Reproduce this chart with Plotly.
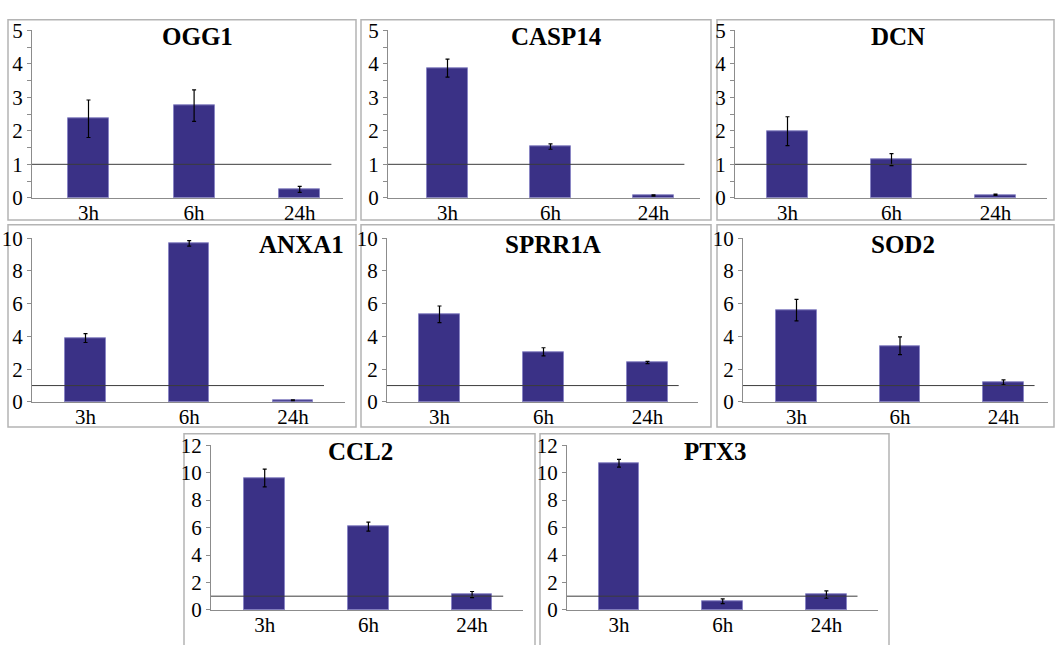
import plotly.graph_objects as go

# Time points and fold-change values (mean and error) for each gene
time_points = ["3h", "6h", "24h"]
genes = ["OGG1", "CASP14", "DCN", "ANXA1", "SPRR1A", "SOD2", "CCL2", "PTX3"]

ogg1 = [2.36, 2.75, 0.25]
ogg1_err = [0.56, 0.47, 0.09]
casp14 = [3.87, 1.53, 0.07]
casp14_err = [0.27, 0.08, 0.02]
dcn = [1.99, 1.14, 0.09]
dcn_err = [0.43, 0.18, 0.02]
anxa1 = [3.90, 9.69, 0.10]
anxa1_err = [0.27, 0.17, 0.02]
sprr1a = [5.35, 3.06, 2.41]
sprr1a_err = [0.51, 0.25, 0.07]
sod2 = [5.61, 3.43, 1.20]
sod2_err = [0.66, 0.54, 0.15]
ccl2 = [9.61, 6.07, 1.12]
ccl2_err = [0.65, 0.33, 0.22]
ptx3 = [10.69, 0.63, 1.12]
ptx3_err = [0.28, 0.17, 0.27]

values = [ogg1, casp14, dcn, anxa1, sprr1a, sod2, ccl2, ptx3]
errors = [ogg1_err, casp14_err, dcn_err, anxa1_err, sprr1a_err, sod2_err, ccl2_err, ptx3_err]
y_max = [5, 5, 5, 10, 10, 10, 12, 12]
y_dtick = [1, 1, 1, 2, 2, 2, 2, 2]
baseline = 1  # reference level (fold change = 1)

W, H = 1055, 645

# Panel geometry in pixels: axis x extent, first bar centre, bar spacing, y top/zero
panels = [
    (32, 343, 88.5, 105.6, 19, 193),
    (388, 700, 447.5, 103.0, 19, 193),
    (735, 1047, 787.5, 104.0, 19, 193),
    (32, 345, 85.5, 103.7, 235, 405),
    (387, 698, 439.5, 104.0, 235, 405),
    (743, 1048, 796.5, 103.5, 235, 405),
    (211, 523, 264.7, 103.7, 450, 621),
    (567, 878, 619.0, 103.7, 450, 621),
]
boxes = [
    (8, 356, 8, 216), (361, 711, 8, 216), (717, 1054, 8, 216),
    (8, 356, 221, 431), (361, 711, 221, 431), (717, 1054, 221, 431),
    (184, 535, 438, 700), (540, 889, 438, 700),
]
title_pos = [(197, 25), (556, 25), (898, 25), (301, 241), (553, 241),
             (903, 241), (360, 457), (715, 457)]

BAR = "#3a3186"
SERIF = "Liberation Serif"


def px(x):
    return x / W


def py(y):
    return 1 - y / H


fig = go.Figure()
shapes = []
annotations = []

for i, gene in enumerate(genes):
    n = "" if i == 0 else str(i + 1)
    x0, x1, c0, sp, ytop, yzero = panels[i]
    xr = [(x0 - c0) / sp, (x1 - c0) / sp]

    fig.add_trace(go.Bar(
        x=[0, 1, 2], y=values[i], width=0.39,
        marker=dict(color=BAR, line=dict(color="#8a86c4", width=1)),
        error_y=dict(type="data", array=errors[i], color="black",
                     thickness=1.2, width=2),
        xaxis="x" + n, yaxis="y" + n, showlegend=False,
    ))

    fig.layout["xaxis" + n] = dict(
        domain=[px(x0), px(x1)], range=xr, anchor="y" + n,
        tickvals=[0, 1, 2], ticktext=time_points, showgrid=False,
        zeroline=False, showline=True, linecolor="#8c8c8c", linewidth=1,
        ticks="", ticklabelstandoff=-4,
        tickfont=dict(family=SERIF, size=21, color="black"),
        fixedrange=True,
    )
    ycfg = dict(
        domain=[py(yzero), py(ytop)], range=[0, y_max[i]], anchor="x" + n,
        dtick=y_dtick[i], tick0=0, showgrid=False, zeroline=False,
        showline=True, linecolor="#8c8c8c", linewidth=1,
        ticks="outside", ticklen=4, tickcolor="#8c8c8c",
        tickfont=dict(family=SERIF, size=21, color="black"),
        fixedrange=True,
    )
    if y_dtick[i] == 1:
        ycfg["minor"] = dict(dtick=0.5, ticks="outside", ticklen=4,
                             tickcolor="#8c8c8c")
    fig.layout["yaxis" + n] = ycfg

    # horizontal reference line at fold change 1
    shapes.append(dict(type="line", xref="x" + n, yref="y" + n,
                       x0=xr[0], x1=2.3, y0=baseline, y1=baseline,
                       line=dict(color="#3c3c3c", width=1)))

    bx0, bx1, by0, by1 = boxes[i]
    shapes.append(dict(type="rect", xref="paper", yref="paper",
                       x0=px(bx0), x1=px(bx1), y0=py(by1), y1=py(by0),
                       line=dict(color="#b4b4b4", width=1.5),
                       fillcolor="rgba(0,0,0,0)", layer="below"))

    tx, ty = title_pos[i]
    annotations.append(dict(text="<b>%s</b>" % gene, xref="paper", yref="paper",
                            x=px(tx), y=py(ty), showarrow=False,
                            xanchor="center", yanchor="middle",
                            font=dict(family=SERIF, size=25, color="black")))

fig.update_layout(
    width=W, height=H, margin=dict(l=0, r=0, t=0, b=0),
    font=dict(family=SERIF),
    paper_bgcolor="white", plot_bgcolor="rgba(0,0,0,0)",
    shapes=shapes, annotations=annotations, bargap=0,
)

fig.write_html("out.html")
